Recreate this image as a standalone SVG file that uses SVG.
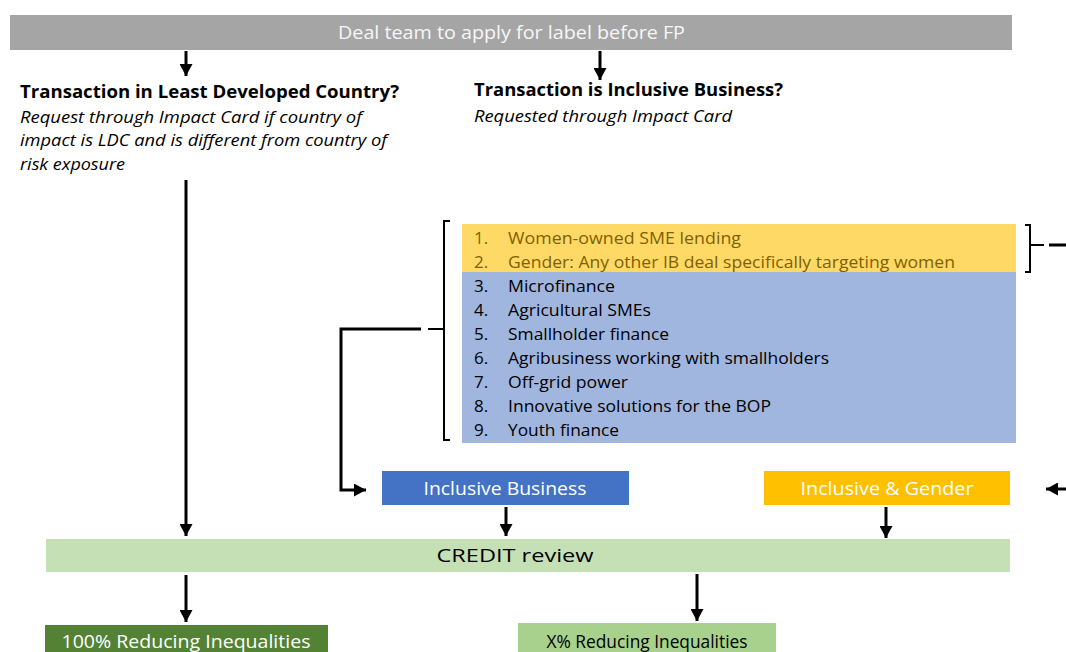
<svg xmlns="http://www.w3.org/2000/svg" width="1066" height="652" viewBox="0 0 1066 652">
<style>
text{font-family:"Open Sans","Noto Sans","Liberation Sans",sans-serif;}
.lbl{font-size:18px;fill:#ffffff;text-anchor:middle;}
.head{font-size:18.5px;font-weight:bold;fill:#000;}
.it{font-size:17px;font-style:italic;fill:#000;}
.item{font-size:17px;fill:#000;}
.gitem{font-size:17px;fill:#7f6000;}
.ln{stroke:#000;stroke-width:3;fill:none;}
.thin{stroke:#000;stroke-width:2;fill:none;}
</style>
<defs>
<marker id="ah" markerUnits="userSpaceOnUse" markerWidth="13" markerHeight="13" refX="12" refY="6.5" orient="auto">
<path d="M0,0 L12,6.5 L0,13 z" fill="#000"/>
</marker>
</defs>
<rect width="1066" height="652" fill="#fff"/>

<g id="top">
<rect x="10" y="15" width="1002" height="35" fill="#a5a5a5"/>
<text x="338" y="39" font-size="17.5" fill="#f7f7f7" textLength="347" lengthAdjust="spacingAndGlyphs">Deal team to apply for label before FP</text>
</g>

<g id="ldc">
<text class="head" x="20" y="98" textLength="379" lengthAdjust="spacingAndGlyphs">Transaction in Least Developed Country?</text>
<text class="it" x="20" y="123" textLength="342" lengthAdjust="spacingAndGlyphs">Request through Impact Card if country of</text>
<text class="it" x="20" y="146" textLength="367" lengthAdjust="spacingAndGlyphs">impact is LDC and is different from country of</text>
<text class="it" x="20" y="170" textLength="105" lengthAdjust="spacingAndGlyphs">risk exposure</text>
</g>

<g id="ib-question">
<text class="head" x="474" y="96" textLength="309" lengthAdjust="spacingAndGlyphs">Transaction is Inclusive Business?</text>
<text class="it" x="474" y="122" textLength="258" lengthAdjust="spacingAndGlyphs">Requested through Impact Card</text>
</g>

<g id="list">
<rect x="462" y="224" width="554" height="48" fill="#ffd966"/>
<rect x="462" y="272" width="554" height="171" fill="#a0b6df"/>
<text class="gitem" x="474" y="244">1.</text>
<text class="gitem" x="508" y="244" textLength="233" lengthAdjust="spacingAndGlyphs">Women-owned SME lending</text>
<text class="gitem" x="474" y="268">2.</text>
<text class="gitem" x="508" y="268" textLength="447" lengthAdjust="spacingAndGlyphs">Gender: Any other IB deal specifically targeting women</text>
<text class="item" x="474" y="292">3.</text>
<text class="item" x="508" y="292" textLength="107" lengthAdjust="spacingAndGlyphs">Microfinance</text>
<text class="item" x="474" y="316">4.</text>
<text class="item" x="508" y="316" textLength="143" lengthAdjust="spacingAndGlyphs">Agricultural SMEs</text>
<text class="item" x="474" y="340">5.</text>
<text class="item" x="508" y="340" textLength="161" lengthAdjust="spacingAndGlyphs">Smallholder finance</text>
<text class="item" x="474" y="364">6.</text>
<text class="item" x="508" y="364" textLength="321" lengthAdjust="spacingAndGlyphs">Agribusiness working with smallholders</text>
<text class="item" x="474" y="388">7.</text>
<text class="item" x="508" y="388" textLength="120" lengthAdjust="spacingAndGlyphs">Off-grid power</text>
<text class="item" x="474" y="412">8.</text>
<text class="item" x="508" y="412" textLength="263" lengthAdjust="spacingAndGlyphs">Innovative solutions for the BOP</text>
<text class="item" x="474" y="436">9.</text>
<text class="item" x="508" y="436" textLength="111" lengthAdjust="spacingAndGlyphs">Youth finance</text>
</g>

<g id="inclusive-business">
<rect x="382" y="471" width="247" height="34" fill="#4472c4"/>
<text class="lbl" x="505" y="495" textLength="163" lengthAdjust="spacingAndGlyphs">Inclusive Business</text>
</g>

<g id="inclusive-gender">
<rect x="764" y="471" width="246" height="34" fill="#ffc000"/>
<text class="lbl" x="887" y="495" textLength="173" lengthAdjust="spacingAndGlyphs">Inclusive &amp; Gender</text>
</g>

<g id="credit">
<rect x="46" y="539" width="964" height="33" fill="#c5e0b4"/>
<text x="515" y="562" font-size="18" fill="#000" text-anchor="middle" textLength="157" lengthAdjust="spacingAndGlyphs">CREDIT review</text>
</g>

<g id="full">
<rect x="45" y="625" width="283" height="30" fill="#548235"/>
<text class="lbl" x="186" y="648" textLength="249" lengthAdjust="spacingAndGlyphs">100% Reducing Inequalities</text>
</g>

<g id="partial">
<rect x="518" y="623" width="258" height="32" fill="#a9d18e"/>
<text x="647" y="648" font-size="18" fill="#000" text-anchor="middle" textLength="201" lengthAdjust="spacingAndGlyphs">X% Reducing Inequalities</text>
</g>

<g id="connectors">
<line class="ln" x1="186" y1="51" x2="186" y2="76" marker-end="url(#ah)"/>
<line class="ln" x1="600" y1="51" x2="600" y2="80" marker-end="url(#ah)"/>
<line class="ln" x1="186" y1="180" x2="186" y2="536" marker-end="url(#ah)"/>
<line class="ln" x1="506" y1="507" x2="506" y2="536" marker-end="url(#ah)"/>
<line class="ln" x1="886" y1="507" x2="886" y2="538" marker-end="url(#ah)"/>
<line class="ln" x1="186" y1="575" x2="186" y2="622" marker-end="url(#ah)"/>
<line class="ln" x1="697" y1="574" x2="697" y2="621" marker-end="url(#ah)"/>
<polyline class="ln" points="421,329 341,329 341,490 366,490" marker-end="url(#ah)"/>
<path class="thin" d="M450,221 H444 V440 H450 M444,329 H428"/>
<path class="thin" d="M1025,225 H1030 V272 H1025 M1030,245 H1044"/>
<line class="ln" x1="1049" y1="245" x2="1066" y2="245"/>
<line class="ln" x1="1066" y1="489" x2="1046" y2="489" marker-end="url(#ah)"/>
</g>
</svg>
